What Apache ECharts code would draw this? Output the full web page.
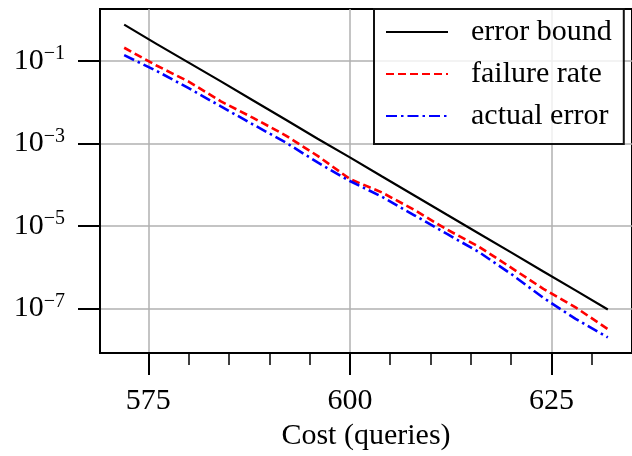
<!DOCTYPE html>
<html>
<head>
<meta charset="utf-8">
<script src="https://cdn.jsdelivr.net/npm/echarts@6/dist/echarts.min.js"></script>
<style>
  html, body { margin: 0; padding: 0; background: #fff; }
  #chart { width: 632px; height: 456px; }
</style>
</head>
<body>
<div id="chart"></div>
<script>
// values (log scale)
var costs = [572, 576, 580, 584, 588, 592, 596, 600, 604, 608, 612, 616, 620, 624, 628, 632]
var errorBound = [7.6e-1, 2.6e-1, 9.1e-2, 3.2e-2, 1.1e-2, 3.8e-3, 1.3e-3, 4.6e-4, 1.58e-4, 5.5e-5, 1.9e-5, 6.6e-6, 2.3e-6, 7.9e-7, 2.75e-7, 9.5e-8]
var failureRate = [2.09e-1, 7.76e-2, 3.16e-2, 1.05e-2, 4.17e-3, 1.58e-3, 5.0e-4, 1.38e-4, 6.46e-5, 2.45e-5, 8.3e-6, 3.16e-6, 9.8e-7, 3.0e-7, 1.07e-7, 3.16e-8]
var actualError = [1.38e-1, 5.75e-2, 2.19e-2, 7.9e-3, 2.88e-3, 1.07e-3, 3.47e-4, 1.23e-4, 5.1e-5, 1.82e-5, 6.5e-6, 2.34e-6, 6.9e-7, 1.82e-7, 5.6e-8, 2.0e-8]
var xMajor = [575, 600, 625]
var xMinor = [580, 585, 590, 595, 605, 610, 615, 620, 630]
var yMajor = [1e-7, 1e-5, 1e-3, 1e-1]

var font = 'Liberation Serif'

function pairs (ys) {
  var out = []
  for (var i = 0; i < costs.length; i++) {
    out.push([costs[i], ys[i]])
  }
  return out
}

var chartDom = document.getElementById('chart')
var myChart = echarts.init(chartDom)
var option

option = {
  animation: false,
  grid: {
    left: 100,
    right: -3,
    top: 9,
    bottom: 100,
    show: true,
    borderColor: '#000',
    borderWidth: 2
  },
  legend: {
    orient: 'vertical',
    left: 374,
    top: 9,
    itemWidth: 62,
    itemHeight: 14,
    itemGap: 12,
    padding: [8, 12, 13, 11],
    borderColor: '#111',
    borderWidth: 2,
    borderRadius: 0,
    backgroundColor: 'rgba(255,255,255,0.8)',
    itemStyle: { opacity: 0 },
    textStyle: {
      fontFamily: font,
      fontSize: 30,
      color: '#000',
      width: 150,
      padding: [0, 0, 0, 18]
    },
    data: ['error bound', 'failure rate', 'actual error']
  },
  xAxis: [
    {
      type: 'value',
      min: 569,
      max: 635,
      position: 'bottom',
      name: 'Cost (queries)',
      nameLocation: 'middle',
      nameGap: 64,
      nameTextStyle: { fontFamily: font, fontSize: 30, color: '#000' },
      axisLine: { lineStyle: { color: '#000', width: 2 } },
      axisTick: { customValues: xMajor, length: 22, lineStyle: { color: '#000', width: 2 } },
      axisLabel: { customValues: xMajor, margin: 33, fontFamily: font, fontSize: 30, color: '#000' },
      splitLine: { show: true, lineStyle: { color: '#b0b0b0', width: 1.5 } }
    },
    {
      type: 'value',
      min: 569,
      max: 635,
      position: 'bottom',
      axisLine: { show: false },
      axisTick: { customValues: xMinor, length: 12, lineStyle: { color: '#000', width: 1.5 } },
      axisLabel: { show: false },
      splitLine: { show: false }
    }
  ],
  yAxis: {
    type: 'log',
    logBase: 10,
    min: Math.pow(10, -8.08),
    max: Math.pow(10, 0.259),
    axisLine: { show: true, lineStyle: { color: '#000', width: 2 } },
    axisTick: { customValues: yMajor, length: 22, lineStyle: { color: '#000', width: 2 } },
    axisLabel: {
      customValues: yMajor,
      margin: 35,
      formatter: function (v) {
        var p = Math.round(Math.log10(v))
        return '{b|10}{s|\u2212' + Math.abs(p) + '}'
      },
      rich: {
        b: { fontFamily: font, fontSize: 30, color: '#000', lineHeight: 34 },
        s: { fontFamily: font, fontSize: 20, color: '#000', lineHeight: 16, verticalAlign: 'top' }
      }
    },
    splitLine: { show: true, lineStyle: { color: '#b0b0b0', width: 1.5 } }
  },
  series: [
    {
      name: 'error bound',
      type: 'line',
      symbol: 'none',
      data: pairs(errorBound),
      lineStyle: { color: '#000', width: 2.2 },
      itemStyle: { color: '#000' }
    },
    {
      name: 'failure rate',
      type: 'line',
      symbol: 'none',
      data: pairs(failureRate),
      lineStyle: { color: '#ff0000', width: 2.6, type: [8, 4] },
      itemStyle: { color: '#ff0000' }
    },
    {
      name: 'actual error',
      type: 'line',
      symbol: 'none',
      data: pairs(actualError),
      lineStyle: { color: '#0000ff', width: 2.6, type: [11, 4, 2.5, 4] },
      itemStyle: { color: '#0000ff' }
    }
  ]
}

option && myChart.setOption(option)
</script>
</body>
</html>
